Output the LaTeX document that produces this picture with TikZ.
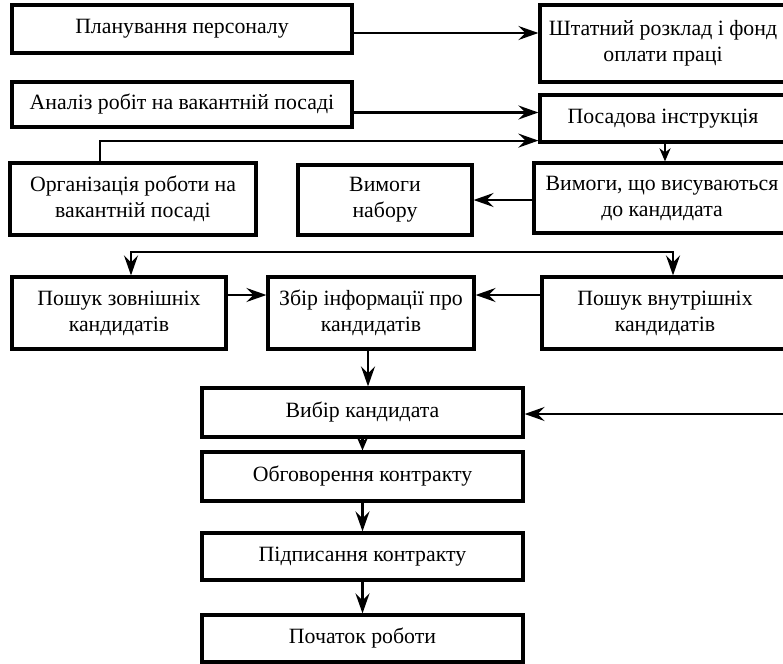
\documentclass[tikz,border=0pt]{standalone}
\usepackage{fontspec}
\setmainfont{Liberation Serif}
\usetikzlibrary{arrows.meta}
\begin{document}
\begin{tikzpicture}[x=0.5pt,y=-0.5pt,
  box/.style={draw, line width=1.6pt, align=center, inner sep=0pt,
    font=\fontsize{10.9}{13}\selectfont},
  arr/.style={line width=1.1pt, -{Stealth[length=10pt,width=7pt,inset=3.5pt]}},
  shortarr/.style={line width=1.1pt, -{Stealth[length=6.5pt,width=5.5pt,inset=2pt]}}]
\useasboundingbox (0,0) rectangle (783,664);
\clip (0,0) rectangle (783,664);

% upper block
\node[box, minimum width=170pt, minimum height=24pt] (plan) at (182,29) {Планування персоналу};
\node[box, minimum width=170pt, minimum height=22.5pt] (analiz) at (182,104.5) {Аналіз робіт на вакантній посаді};
\node[box, minimum width=123pt, minimum height=38.5pt] (shtat) at (663,43.5) {Штатний розклад і фонд\\оплати праці};
\node[box, minimum width=123pt, minimum height=23.5pt] (posada) at (663,118.5) {Посадова інструкція};
\node[box, minimum width=123pt, minimum height=36pt] (org) at (133,199) {Організація роботи на\\вакантній посаді};
\node[box, minimum width=87pt, minimum height=35pt] (vymnab) at (385,200) {Вимоги\\набору};
\node[box, minimum width=128pt, minimum height=35pt] (vymkand) at (662,198) {Вимоги, що висуваються\\до кандидата};

% search block
\node[box, minimum width=107pt, minimum height=36pt] (zovn) at (119,313) {Пошук зовнішніх\\кандидатів};
\node[box, minimum width=103pt, minimum height=36pt] (zbir) at (371,313) {Збір інформації про\\кандидатів};
\node[box, minimum width=123pt, minimum height=36pt] (vnutr) at (665,313) {Пошук внутрішніх\\кандидатів};

% final chain
\node[box, minimum width=160.5pt, minimum height=24.5pt] (vybir) at (362.5,412.5) {Вибір кандидата};
\node[box, minimum width=160.5pt, minimum height=24.5pt] (obgov) at (362.5,476.5) {Обговорення контракту};
\node[box, minimum width=160.5pt, minimum height=23.5pt] (pidp) at (362.5,556.5) {Підписання контракту};
\node[box, minimum width=160.5pt, minimum height=23.5pt] (pochat) at (362.5,638.5) {Початок роботи};

% connectors
\draw[arr] ([yshift=-2pt]plan.east) -- ([yshift=-2pt]plan.east -| shtat.west);
\draw[arr] ([yshift=-4pt]analiz.east) -- ([yshift=-4pt]analiz.east -| posada.west);
\draw[arr] ([xshift=-16.5pt]org.north) |- ([yshift=1.5pt]posada.south west);
\draw[shortarr] ([xshift=1pt]posada.south) -- ([xshift=1pt]posada.south |- vymkand.north);
\draw[arr] (vymkand.west |- vymnab.east) -- (vymnab.east);

\coordinate (split) at (400,252);
\draw[arr] (split) -| ([xshift=6pt]zovn.north);
\draw[arr] (split) -| ([xshift=4pt]vnutr.north);
\draw[arr] ([yshift=9pt]zovn.east) -- ([yshift=9pt]zovn.east -| zbir.west);
\draw[arr] ([yshift=9pt]vnutr.west) -- ([yshift=9pt]vnutr.west -| zbir.east);
\draw[arr] ([xshift=-1.5pt]zbir.south) -- ([xshift=-1.5pt]zbir.south |- vybir.north);

\coordinate (feed) at (800,414);
\draw[arr] (feed) -- (feed -| vybir.east);
\draw[shortarr] (vybir.south) -- (obgov.north);
\draw[arr] (obgov.south) -- (pidp.north);
\draw[arr] (pidp.south) -- (pochat.north);
\end{tikzpicture}
\end{document}
